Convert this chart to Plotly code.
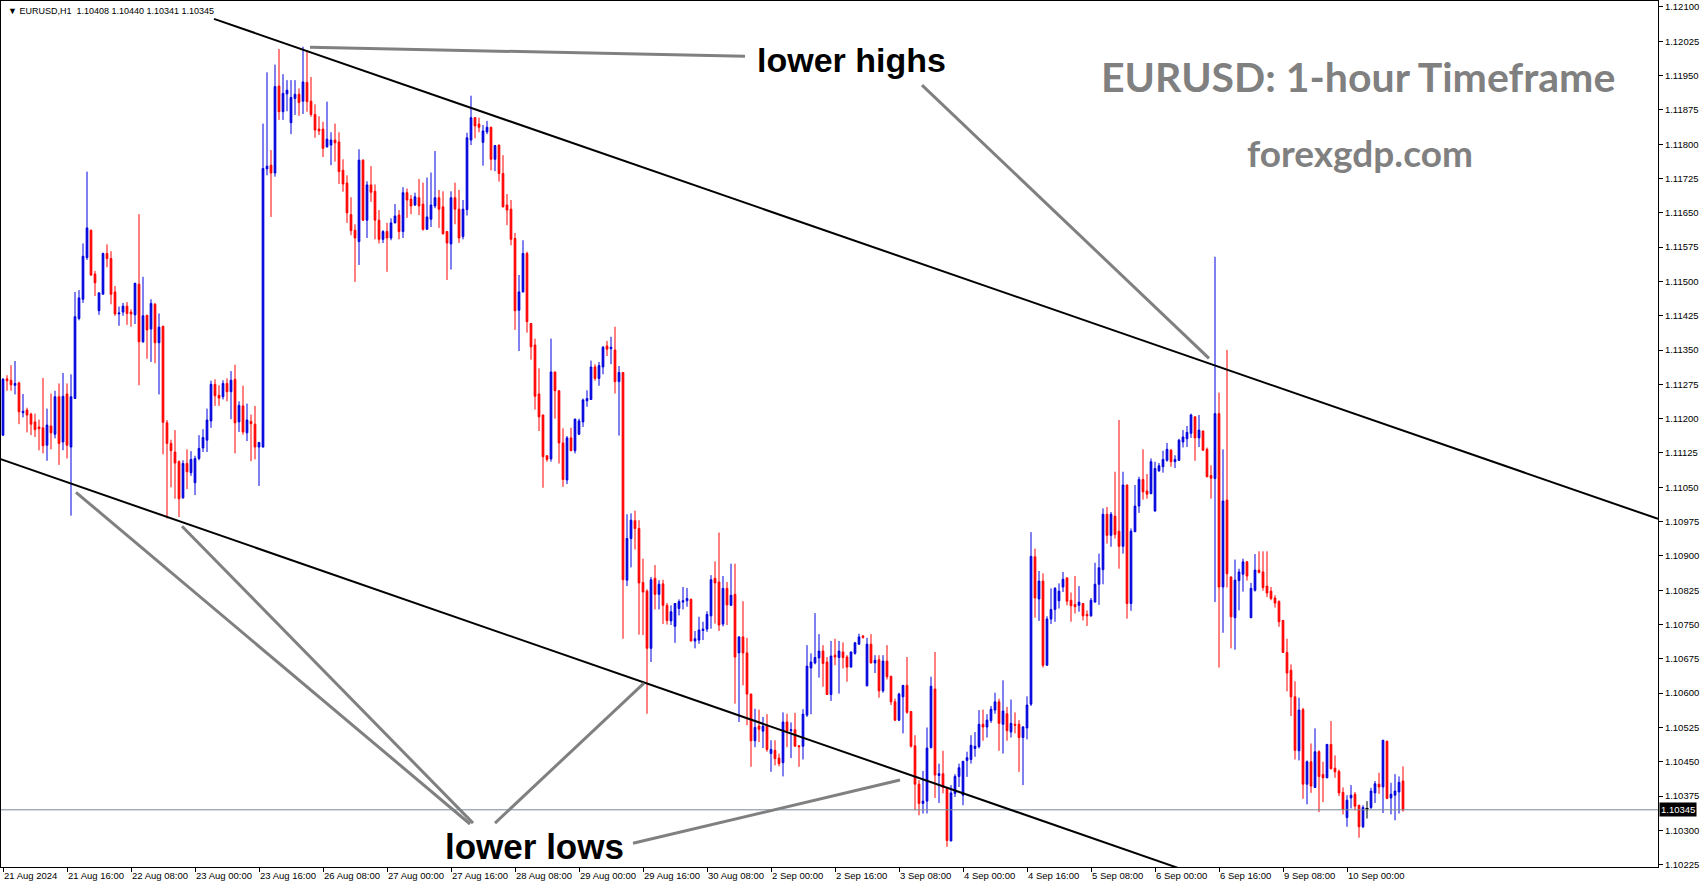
import plotly.graph_objects as go

# ---------------- data ----------------
symbol = "EURUSD,H1"

time_label_bars = [0, 16, 32, 48, 64, 80, 96, 112, 128, 144, 160, 176, 192, 208, 224, 240, 256, 272, 288, 304, 320, 336]
time_labels = ["21 Aug 2024", "21 Aug 16:00", "22 Aug 08:00", "23 Aug 00:00", "23 Aug 16:00", "26 Aug 08:00",
               "27 Aug 00:00", "27 Aug 16:00", "28 Aug 08:00", "29 Aug 00:00", "29 Aug 16:00", "30 Aug 08:00",
               "2 Sep 00:00", "2 Sep 16:00", "3 Sep 08:00", "4 Sep 00:00", "4 Sep 16:00", "5 Sep 08:00",
               "6 Sep 00:00", "6 Sep 16:00", "9 Sep 08:00", "10 Sep 00:00"]

price_ticks = [1.12100, 1.12025, 1.11950, 1.11875, 1.11800, 1.11725, 1.11650, 1.11575, 1.11500, 1.11425,
               1.11350, 1.11275, 1.11200, 1.11125, 1.11050, 1.10975, 1.10900, 1.10825, 1.10750, 1.10675,
               1.10600, 1.10525, 1.10450, 1.10375, 1.10300, 1.10225]

opens = [
 1.11164,1.11287,1.11284,1.11273,1.11278,1.11213,1.11219,1.11210,1.11193,1.11182,
 1.11180,1.11142,1.11184,1.11166,1.11248,1.11149,1.11254,1.11138,1.11244,1.11419,
 1.11461,1.11552,1.11612,1.11516,1.11436,1.11472,1.11561,1.11550,1.11477,1.11429,
 1.11433,1.11446,1.11433,1.11427,1.11494,1.11368,1.11426,1.11396,1.11450,1.11366,
 1.11402,1.11191,1.11146,1.11127,1.11106,1.11027,1.11102,1.11082,1.11060,1.11113,
 1.11136,1.11153,1.11195,1.11275,1.11251,1.11248,1.11277,1.11259,1.11286,1.11193,
 1.11228,1.11169,1.11194,1.11188,1.11138,1.11138,1.11746,1.11754,1.11737,1.11927,
 1.11871,1.11910,1.11847,1.11900,1.11909,1.11894,1.11935,1.11894,1.11865,1.11833,
 1.11833,1.11794,1.11798,1.11809,1.11805,1.11743,1.11715,1.11646,1.11612,1.11587,
 1.11765,1.11634,1.11711,1.11697,1.11634,1.11592,1.11609,1.11595,1.11628,1.11645,
 1.11609,1.11694,1.11680,1.11667,1.11683,1.11669,1.11614,1.11636,1.11665,1.11683,
 1.11663,1.11609,1.11582,1.11683,1.11658,1.11598,1.11657,1.11809,1.11858,1.11844,
 1.11804,1.11827,1.11837,1.11767,1.11798,1.11736,1.11667,1.11658,1.11594,1.11437,
 1.11477,1.11561,1.11408,1.11361,1.11254,1.11208,1.11119,1.11112,1.11302,1.11261,
 1.11147,1.11066,1.11158,1.11130,1.11166,1.11193,1.11239,1.11242,1.11313,1.11288,
 1.11313,1.11359,1.11353,1.11350,1.11281,1.11301,1.10847,1.10938,1.10977,1.10960,
 1.10842,1.10823,1.10698,1.10851,1.10816,1.10839,1.10792,1.10758,1.10746,1.10785,
 1.10799,1.10802,1.10805,1.10714,1.10716,1.10737,1.10740,1.10769,1.10851,1.10843,
 1.10751,1.10829,1.10792,1.10816,1.10688,1.10723,1.10688,1.10598,1.10496,1.10528,
 1.10517,1.10530,1.10468,1.10475,1.10458,1.10448,1.10537,1.10518,1.10520,1.10485,
 1.10484,1.10552,1.10655,1.10666,1.10677,1.10692,1.10668,1.10597,1.10683,1.10678,
 1.10690,1.10679,1.10657,1.10687,1.10707,1.10725,1.10616,1.10707,1.10666,1.10673,
 1.10605,1.10670,1.10637,1.10581,1.10541,1.10592,1.10617,1.10560,1.10485,1.10401,
 1.10359,1.10364,1.10481,1.10609,1.10420,1.10424,1.10392,1.10277,1.10381,1.10418,
 1.10377,1.10453,1.10455,1.10479,1.10483,1.10532,1.10526,1.10540,1.10563,1.10581,
 1.10532,1.10555,1.10515,1.10532,1.10532,1.10503,1.10524,1.10576,1.10898,1.10806,
 1.10845,1.10661,1.10762,1.10783,1.10802,1.10832,1.10852,1.10803,1.10794,1.10792,
 1.10796,1.10772,1.10769,1.10799,1.10838,1.10870,1.10991,1.10945,1.10987,1.10954,
 1.10921,1.11055,1.10796,1.10953,1.11009,1.11067,1.11042,1.11036,1.10998,1.11086,
 1.11095,1.11109,1.11131,1.11106,1.11109,1.11149,1.11156,1.11168,1.11204,1.11158,
 1.11173,1.11133,1.11076,1.11069,1.11211,1.10832,1.11022,1.10854,1.10765,1.10846,
 1.10860,1.10887,1.10765,1.10825,1.10869,1.10865,1.10834,1.10823,1.10808,1.10800,
 1.10759,1.10689,1.10650,1.10592,1.10474,1.10564,1.10401,1.10450,1.10394,1.10472,
 1.10422,1.10415,1.10488,1.10436,1.10429,1.10383,1.10328,1.10371,1.10379,1.10355,
 1.10308,1.10348,1.10350,1.10382,1.10401,1.10395,1.10495,1.10371,1.10377,1.10384,1.10408]

highs = [
 1.11289,1.11295,1.11317,1.11326,1.11281,1.11254,1.11224,1.11213,1.11211,1.11198,
 1.11289,1.11222,1.11255,1.11261,1.11277,1.11300,1.11277,1.11297,1.11477,1.11481,
 1.11583,1.11740,1.11613,1.11523,1.11475,1.11563,1.11581,1.11566,1.11490,1.11445,
 1.11453,1.11455,1.11439,1.11497,1.11647,1.11510,1.11427,1.11461,1.11453,1.11430,
 1.11403,1.11197,1.11154,1.11175,1.11109,1.11109,1.11133,1.11129,1.11119,1.11164,
 1.11177,1.11222,1.11283,1.11286,1.11273,1.11284,1.11288,1.11304,1.11318,1.11238,
 1.11272,1.11233,1.11209,1.11228,1.11149,1.11845,1.11957,1.11787,1.11974,1.12008,
 1.11953,1.11940,1.11940,1.11940,1.11922,1.12013,1.12006,1.11947,1.11887,1.11861,
 1.11849,1.11893,1.11826,1.11845,1.11826,1.11767,1.11732,1.11684,1.11625,1.11789,
 1.11767,1.11719,1.11752,1.11712,1.11656,1.11612,1.11628,1.11638,1.11669,1.11656,
 1.11706,1.11703,1.11689,1.11694,1.11724,1.11716,1.11727,1.11738,1.11785,1.11700,
 1.11697,1.11610,1.11697,1.11716,1.11700,1.11678,1.11825,1.11906,1.11859,1.11858,
 1.11842,1.11851,1.11838,1.11798,1.11799,1.11776,1.11691,1.11678,1.11606,1.11514,
 1.11590,1.11565,1.11409,1.11375,1.11310,1.11209,1.11120,1.11375,1.11303,1.11262,
 1.11179,1.11162,1.11180,1.11200,1.11200,1.11244,1.11262,1.11327,1.11319,1.11324,
 1.11359,1.11370,1.11379,1.11401,1.11315,1.11302,1.10991,1.10993,1.10999,1.10978,
 1.10894,1.10827,1.10854,1.10880,1.10847,1.10848,1.10797,1.10792,1.10797,1.10805,
 1.10832,1.10830,1.10807,1.10736,1.10767,1.10756,1.10779,1.10858,1.10888,1.10951,
 1.10856,1.10843,1.10883,1.10883,1.10724,1.10801,1.10721,1.10599,1.10566,1.10564,
 1.10548,1.10554,1.10497,1.10497,1.10468,1.10558,1.10555,1.10536,1.10557,1.10486,
 1.10565,1.10705,1.10687,1.10775,1.10729,1.10705,1.10679,1.10714,1.10719,1.10714,
 1.10711,1.10683,1.10691,1.10712,1.10730,1.10727,1.10721,1.10729,1.10683,1.10683,
 1.10683,1.10705,1.10638,1.10588,1.10601,1.10618,1.10679,1.10561,1.10508,1.10410,
 1.10430,1.10525,1.10636,1.10690,1.10446,1.10474,1.10395,1.10399,1.10423,1.10446,
 1.10452,1.10472,1.10508,1.10515,1.10563,1.10564,1.10554,1.10572,1.10601,1.10588,
 1.10628,1.10570,1.10586,1.10558,1.10541,1.10528,1.10593,1.10952,1.10916,1.10867,
 1.10862,1.10768,1.10829,1.10832,1.10840,1.10865,1.10853,1.10820,1.10856,1.10834,
 1.10797,1.10781,1.10808,1.10885,1.10905,1.11004,1.11007,1.10996,1.11084,1.11197,
 1.11084,1.11056,1.10960,1.11055,1.11073,1.11133,1.11079,1.11113,1.11106,1.11103,
 1.11130,1.11147,1.11134,1.11120,1.11156,1.11175,1.11184,1.11211,1.11205,1.11208,
 1.11174,1.11137,1.11098,1.11554,1.11257,1.11133,1.11350,1.10855,1.10892,1.10872,
 1.10894,1.10889,1.10841,1.10904,1.10910,1.10910,1.10910,1.10832,1.10814,1.10803,
 1.10760,1.10719,1.10663,1.10626,1.10590,1.10568,1.10453,1.10490,1.10523,1.10475,
 1.10450,1.10489,1.10539,1.10464,1.10433,1.10394,1.10377,1.10399,1.10384,1.10356,
 1.10355,1.10364,1.10393,1.10408,1.10426,1.10498,1.10496,1.10404,1.10423,1.10418,1.10440]

lows = [
 1.11162,1.11261,1.11261,1.11253,1.11188,1.11203,1.11170,1.11164,1.11160,1.11131,
 1.11124,1.11108,1.11133,1.11157,1.11099,1.11131,1.11113,1.10988,1.11244,1.11415,
 1.11453,1.11547,1.11512,1.11468,1.11427,1.11472,1.11531,1.11450,1.11425,1.11403,
 1.11425,1.11405,1.11401,1.11407,1.11273,1.11366,1.11331,1.11324,1.11321,1.11253,
 1.11122,1.10982,1.11050,1.11025,1.10985,1.11025,1.11046,1.11075,1.11033,1.11109,
 1.11127,1.11127,1.11180,1.11228,1.11228,1.11242,1.11238,1.11199,1.11124,1.11171,
 1.11165,1.11151,1.11107,1.11111,1.11053,1.11137,1.11732,1.11641,1.11729,1.11853,
 1.11853,1.11872,1.11822,1.11864,1.11862,1.11866,1.11871,1.11860,1.11814,1.11820,
 1.11772,1.11793,1.11754,1.11762,1.11713,1.11696,1.11628,1.11601,1.11499,1.11536,
 1.11632,1.11595,1.11674,1.11592,1.11583,1.11584,1.11521,1.11590,1.11627,1.11592,
 1.11595,1.11639,1.11647,1.11665,1.11645,1.11611,1.11613,1.11619,1.11660,1.11617,
 1.11603,1.11503,1.11526,1.11625,1.11584,1.11592,1.11644,1.11798,1.11813,1.11826,
 1.11753,1.11822,1.11743,1.11741,1.11718,1.11662,1.11623,1.11579,1.11394,1.11348,
 1.11476,1.11388,1.11329,1.11220,1.11173,1.11049,1.11106,1.11106,1.11200,1.11102,
 1.11051,1.11057,1.11129,1.11124,1.11164,1.11182,1.11226,1.11241,1.11283,1.11272,
 1.11297,1.11337,1.11319,1.11255,1.11163,1.10719,1.10834,1.10875,1.10914,1.10728,
 1.10727,1.10555,1.10668,1.10783,1.10783,1.10751,1.10750,1.10749,1.10710,1.10770,
 1.10783,1.10789,1.10713,1.10698,1.10708,1.10716,1.10734,1.10741,1.10752,1.10736,
 1.10746,1.10749,1.10791,1.10577,1.10537,1.10617,1.10530,1.10439,1.10482,1.10493,
 1.10480,1.10472,1.10428,1.10442,1.10440,1.10418,1.10482,1.10458,1.10483,1.10439,
 1.10455,1.10548,1.10554,1.10663,1.10634,1.10614,1.10596,1.10583,1.10661,1.10599,
 1.10654,1.10625,1.10656,1.10684,1.10706,1.10719,1.10615,1.10665,1.10644,1.10590,
 1.10601,1.10630,1.10574,1.10539,1.10539,1.10512,1.10555,1.10481,1.10344,1.10333,
 1.10337,1.10337,1.10479,1.10371,1.10360,1.10381,1.10264,1.10276,1.10373,1.10395,
 1.10355,1.10417,1.10446,1.10461,1.10479,1.10496,1.10503,1.10535,1.10555,1.10474,
 1.10468,1.10496,1.10503,1.10512,1.10428,1.10399,1.10499,1.10572,1.10765,1.10758,
 1.10656,1.10660,1.10751,1.10756,1.10785,1.10821,1.10792,1.10756,1.10774,1.10778,
 1.10759,1.10747,1.10767,1.10798,1.10793,1.10838,1.10927,1.10920,1.10938,1.10872,
 1.10905,1.10763,1.10780,1.10952,1.10994,1.11023,1.11025,1.11035,1.10997,1.11084,
 1.11082,1.11106,1.11095,1.11092,1.11108,1.11137,1.11138,1.11158,1.11108,1.11138,
 1.11130,1.11072,1.11025,1.10799,1.10656,1.10732,1.10831,1.10698,1.10695,1.10781,
 1.10822,1.10846,1.10764,1.10822,1.10862,1.10824,1.10810,1.10803,1.10787,1.10745,
 1.10688,1.10604,1.10550,1.10455,1.10453,1.10369,1.10357,1.10382,1.10393,1.10340,
 1.10362,1.10414,1.10433,1.10415,1.10375,1.10335,1.10308,1.10348,1.10344,1.10284,
 1.10305,1.10326,1.10347,1.10360,1.10380,1.10338,1.10368,1.10335,1.10322,1.10337,1.10341]

closes = [
 1.11286,1.11283,1.11274,1.11277,1.11215,1.11216,1.11208,1.11188,1.11176,1.11178,
 1.11141,1.11186,1.11169,1.11248,1.11146,1.11249,1.11142,1.11248,1.11423,1.11464,
 1.11555,1.11617,1.11514,1.11497,1.11475,1.11561,1.11550,1.11472,1.11429,1.11431,
 1.11446,1.11430,1.11429,1.11496,1.11368,1.11425,1.11394,1.11452,1.11366,1.11400,
 1.11192,1.11146,1.11130,1.11103,1.11025,1.11102,1.11084,1.11111,1.11113,1.11135,
 1.11159,1.11197,1.11275,1.11250,1.11245,1.11277,1.11259,1.11284,1.11191,1.11229,
 1.11171,1.11197,1.11189,1.11138,1.11148,1.11747,1.11752,1.11737,1.11926,1.11871,
 1.11911,1.11918,1.11902,1.11909,1.11891,1.11936,1.11893,1.11865,1.11831,1.11829,
 1.11791,1.11811,1.11809,1.11803,1.11740,1.11713,1.11650,1.11611,1.11595,1.11765,
 1.11634,1.11711,1.11695,1.11634,1.11592,1.11609,1.11595,1.11628,1.11643,1.11609,
 1.11694,1.11678,1.11665,1.11685,1.11665,1.11614,1.11641,1.11667,1.11683,1.11658,
 1.11604,1.11584,1.11683,1.11658,1.11595,1.11658,1.11814,1.11858,1.11840,1.11837,
 1.11829,1.11837,1.11767,1.11797,1.11736,1.11663,1.11656,1.11592,1.11436,1.11477,
 1.11561,1.11412,1.11357,1.11249,1.11204,1.11117,1.11111,1.11302,1.11261,1.11147,
 1.11067,1.11158,1.11130,1.11199,1.11195,1.11241,1.11244,1.11313,1.11288,1.11316,
 1.11356,1.11352,1.11356,1.11281,1.11301,1.10848,1.10938,1.10978,1.10960,1.10841,
 1.10821,1.10698,1.10848,1.10816,1.10838,1.10792,1.10759,1.10778,1.10796,1.10800,
 1.10802,1.10807,1.10714,1.10719,1.10738,1.10740,1.10772,1.10848,1.10841,1.10749,
 1.10829,1.10793,1.10814,1.10679,1.10723,1.10688,1.10598,1.10496,1.10525,1.10521,
 1.10528,1.10477,1.10477,1.10457,1.10446,1.10537,1.10517,1.10520,1.10484,1.10483,
 1.10554,1.10659,1.10668,1.10678,1.10692,1.10665,1.10597,1.10681,1.10679,1.10692,
 1.10678,1.10657,1.10690,1.10710,1.10723,1.10722,1.10707,1.10666,1.10672,1.10605,
 1.10670,1.10636,1.10581,1.10541,1.10598,1.10617,1.10558,1.10484,1.10401,1.10359,
 1.10364,1.10480,1.10615,1.10421,1.10424,1.10394,1.10278,1.10382,1.10418,1.10437,
 1.10451,1.10459,1.10486,1.10484,1.10532,1.10526,1.10541,1.10565,1.10581,1.10534,
 1.10561,1.10518,1.10534,1.10530,1.10503,1.10526,1.10574,1.10899,1.10808,1.10845,
 1.10661,1.10762,1.10783,1.10829,1.10823,1.10849,1.10801,1.10791,1.10789,1.10799,
 1.10769,1.10769,1.10803,1.10838,1.10874,1.10991,1.10945,1.10991,1.10947,1.10921,
 1.11055,1.10796,1.10954,1.11009,1.11067,1.11040,1.11035,1.11106,1.11091,1.11097,
 1.11111,1.11133,1.11106,1.11111,1.11153,1.11160,1.11170,1.11208,1.11158,1.11175,
 1.11131,1.11073,1.11070,1.11211,1.10832,1.11020,1.10861,1.10767,1.10847,1.10865,
 1.10887,1.10856,1.10829,1.10869,1.10864,1.10831,1.10819,1.10807,1.10797,1.10756,
 1.10689,1.10644,1.10592,1.10475,1.10563,1.10401,1.10450,1.10397,1.10472,1.10418,
 1.10415,1.10488,1.10435,1.10428,1.10382,1.10346,1.10366,1.10377,1.10353,1.10308,
 1.10350,1.10348,1.10386,1.10402,1.10395,1.10497,1.10370,1.10379,1.10386,1.10405,1.10345]

# channel lines (bar index, price)
upper_channel_bars = [52.75, 413.75]
upper_channel_prices = [1.12074, 1.10981]
lower_channel_bars = [-0.75, 293.75]
lower_channel_prices = [1.11112, 1.10218]

# pointer lines for the labels (bar index, price)
pointer_lines = [
    ([76.75, 185.5], [1.12012, 1.11992]),
    ([229.75, 301.5], [1.11929, 1.11332]),
    ([18.25, 116.75], [1.11039, 1.10314]),
    ([44.75, 117.5], [1.10965, 1.10316]),
    ([123.0, 160.25], [1.10316, 1.10622]),
    ([157.5, 224.25], [1.10272, 1.10410]),
]

# ---------------- figure ----------------
W, H = 1705, 888
ML, MR, MT, MB = 1, 47, 1, 21
X_RANGE = [-0.5, 413.75]
Y_RANGE = [1.10220, 1.12113]

bars = list(range(len(opens)))
main_idx = [i for i in bars if opens[i] != closes[i]]
doji_idx = [i for i in bars if opens[i] == closes[i]]

fig = go.Figure()

last_price = closes[-1]
fig.add_trace(go.Scatter(x=X_RANGE, y=[last_price, last_price], mode="lines",
                         line=dict(color="#778899", width=1), hoverinfo="skip", showlegend=False))

fig.add_trace(go.Candlestick(
    x=[bars[i] for i in main_idx],
    open=[opens[i] for i in main_idx], high=[highs[i] for i in main_idx],
    low=[lows[i] for i in main_idx], close=[closes[i] for i in main_idx],
    increasing=dict(line=dict(color="#0000DD", width=1), fillcolor="#0000DD"),
    decreasing=dict(line=dict(color="#FF0000", width=1), fillcolor="#FF0000"),
    whiskerwidth=0, showlegend=False, hoverinfo="skip"))

for i in doji_idx:
    fig.add_trace(go.Scatter(x=[bars[i], bars[i], None, bars[i] - 0.4, bars[i] + 0.4],
                             y=[lows[i], highs[i], None, opens[i], opens[i]], mode="lines",
                             line=dict(color="black", width=1), hoverinfo="skip", showlegend=False))

fig.add_trace(go.Scatter(x=upper_channel_bars, y=upper_channel_prices, mode="lines",
                         line=dict(color="black", width=2), hoverinfo="skip", showlegend=False))
fig.add_trace(go.Scatter(x=lower_channel_bars, y=lower_channel_prices, mode="lines",
                         line=dict(color="black", width=2), hoverinfo="skip", showlegend=False))
for xs, ys in pointer_lines:
    fig.add_trace(go.Scatter(x=xs, y=ys, mode="lines", line=dict(color="#808080", width=3),
                             hoverinfo="skip", showlegend=False))

tick_font = dict(family="Liberation Sans, Arial, sans-serif", size=9.5, color="black")

fig.update_layout(
    width=W, height=H, autosize=False,
    margin=dict(l=ML, r=MR, t=MT, b=MB, pad=0, autoexpand=False),
    paper_bgcolor="white", plot_bgcolor="white",
    boxgap=0.4,
    showlegend=False,
    xaxis=dict(range=X_RANGE, type="linear", rangeslider=dict(visible=False),
               showgrid=False, zeroline=False, showline=True, mirror=True,
               linecolor="black", linewidth=1, automargin=False,
               tickmode="array", tickvals=time_label_bars, ticktext=time_labels,
               tickangle=0,
               ticks="outside", ticklen=4, tickcolor="black", tickwidth=1,
               ticklabelposition="outside right", tickfont=tick_font, fixedrange=True),
    yaxis=dict(range=Y_RANGE, side="right", showgrid=False, zeroline=False,
               showline=True, mirror=True, linecolor="black", linewidth=1, automargin=False,
               tickmode="array", tickvals=price_ticks,
               ticktext=["%.5f" % v for v in price_ticks],
               ticks="outside", ticklen=4, tickcolor="black", tickwidth=1,
               tickfont=tick_font, fixedrange=True),
)

header = ("\u25BC " + symbol + "\u00a0\u00a0" +
          " ".join("%.5f" % v for v in (opens[-1], highs[-1], lows[-1], closes[-1])))
fig.add_annotation(text=header, xref="paper", yref="paper", x=0.003, y=0.997,
                   xanchor="left", yanchor="top", showarrow=False,
                   font=dict(family="Liberation Sans, Arial, sans-serif", size=9, color="black"))

fig.add_annotation(text="%.5f" % last_price, xref="paper", yref="y", x=1.0, y=last_price,
                   xanchor="left", yanchor="middle", showarrow=False, xshift=1,
                   bgcolor="black", borderpad=1,
                   font=dict(family="Liberation Sans, Arial, sans-serif", size=9.5, color="white"))

label_font = dict(family="Liberation Sans, Arial, sans-serif", color="black")
fig.add_annotation(text="<b>lower highs</b>", x=212, y=1.11984, xref="x", yref="y",
                   showarrow=False, font=dict(size=34, **label_font))
fig.add_annotation(text="<b>lower lows</b>", x=132.75, y=1.10265, xref="x", yref="y",
                   showarrow=False, font=dict(size=35, **label_font))

brand_font = dict(family="Lato, Open Sans, sans-serif", color="#808080")
fig.add_annotation(text="<b>EURUSD: 1-hour Timeframe</b>", x=338.75, y=1.11947, xref="x", yref="y",
                   showarrow=False, font=dict(size=41, **brand_font))
fig.add_annotation(text="<b>forexgdp.com</b>", x=339.25, y=1.11781, xref="x", yref="y",
                   showarrow=False, font=dict(size=37, **brand_font))

fig.write_html("out.html", config={"displayModeBar": False},
               post_script="document.body.style.margin='0px';document.body.style.overflow='hidden';")
